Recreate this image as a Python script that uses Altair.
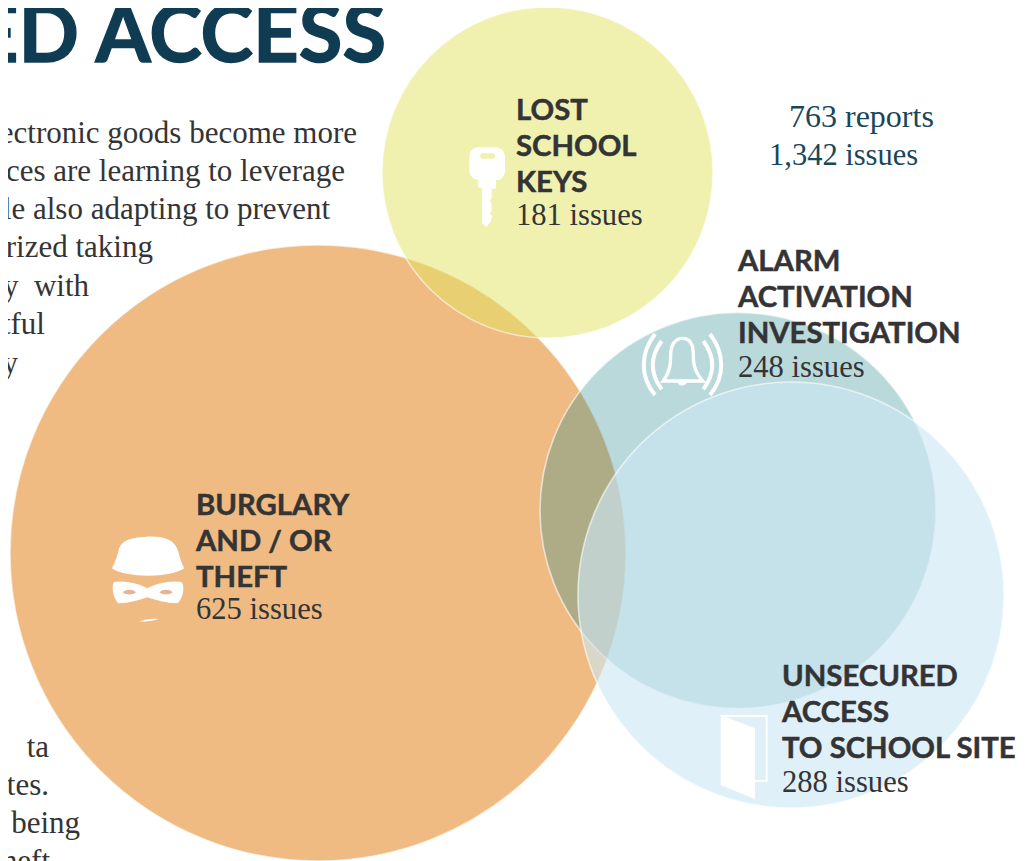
import altair as alt
import pandas as pd

SERIF = "Liberation Serif"
SANS = "Lato"
DARK = "#343436"
NAVY = "#0f3c53"

# values
names = ["Burglary and / or theft", "Lost school keys", "Alarm activation investigation", "Unsecured access to school site"]
issues = [625, 181, 248, 288]
# where the Venn places each circle and how wide it is drawn
venn_x = [318, 547.5, 738, 791]
venn_y = [553, 172.5, 510.5, 595]
venn_d = [616, 331, 396, 426]
fills = ["#efbb82", "#e1e35f", "#319093", "#cde7f3"]
alphas = [1.0, 0.5, 0.34, 0.62]

title_line = ["ED ACCESS"]
body_top = ["ectronic goods become more", "ces are learning to leverage", "ile also adapting to prevent",
            "orized taking", "ty\u00a0\u00a0with", "tful", "ry"]
body_top_end = [357, 345, 330, 153, 89, 45, 18]
body_top_base = [143, 181, 219, 257, 296, 334, 373]
body_low = ["s", "ta", "ites.", "being", "heft"]
body_low_end = [3, 49, 49, 80, 50]
body_low_base = [719, 757, 795, 833, 871]

totals = ["763 reports", "1,342 issues"]
totals_x = [789, 769]
totals_y = [127, 165]
totals_size = [32, 30.5]

head_text = ["LOST", "SCHOOL", "KEYS", "ALARM", "ACTIVATION", "INVESTIGATION", "BURGLARY", "AND / OR", "THEFT",
             "UNSECURED", "ACCESS", "TO SCHOOL SITE"]
head_x = [516] * 3 + [738] * 3 + [196] * 3 + [782] * 3
head_y = [120, 156, 192, 271, 307, 343, 515, 551, 587, 686, 722, 758]
count_text = [f"{issues[1]} issues", f"{issues[2]} issues", f"{issues[0]} issues", f"{issues[3]} issues"]
count_x = [516, 738, 196, 782]
count_y = [225, 377, 619, 792]

X = alt.Scale(domain=[8, 1024], range=[0, 1016], nice=False, zero=False)
Y = alt.Scale(domain=[8, 861], range=[0, 853], nice=False, zero=False)
xe = alt.X("x:Q", scale=X, axis=None)
ye = alt.Y("y:Q", scale=Y, axis=None)

# area follows the number of issues
order = sorted(range(4), key=lambda i: issues[i])
size_scale = alt.Scale(domain=[0] + [issues[i] for i in order], range=[0] + [venn_d[i] ** 2 for i in order])

layers = []
for i in [0, 2, 3, 1]:
    d = pd.DataFrame({"x": [venn_x[i]], "y": [venn_y[i]], "issues": [issues[i]], "name": [names[i]]})
    layers.append(alt.Chart(d).mark_circle(fill=fills[i], fillOpacity=alphas[i], opacity=1, stroke="white",
                                           strokeWidth=1.6, strokeOpacity=0.6)
                  .encode(x=xe, y=ye, size=alt.Size("issues:Q", scale=size_scale, legend=None)))

# pictograms, drawn as custom symbols whose outlines are in 1/3 px units
U = 4 / 9
def glyph(ax, ay, path, fill=None, stroke=None, sw=0):
    kw = dict(shape=path, size=U, opacity=1)
    if fill:
        kw.update(filled=True, fill=fill, strokeWidth=0)
    else:
        kw.update(filled=False, fill="transparent", stroke=stroke, strokeWidth=sw)
    return alt.Chart(pd.DataFrame({"x": [ax], "y": [ay]})).mark_point(**kw).encode(x=xe, y=ye)

W = "#ffffff"
layers += [
    # burglar
    glyph(90, 520, "M66,145 C75,125 82,110 86,90 C92,65 115,52 170,50 C225,48 255,60 265,95 C270,115 275,130 283,145 C260,160 220,167 175,167 C130,167 85,160 66,145 Z", W),
    glyph(90, 520, "M72,186 C100,180 150,190 172,205 C195,190 245,180 275,186 C285,200 280,235 262,250 C230,250 195,240 172,232 C150,240 115,250 85,250 C70,235 63,200 72,186 Z", W),
    glyph(90, 520, "M98,217 C108,207 128,207 138,217 C128,226 108,226 98,217 Z", "#e5b496"),
    glyph(90, 520, "M208,217 C218,207 238,207 248,217 C238,226 218,226 208,217 Z", "#e5b496"),
    glyph(90, 520, "M148,305 C165,298 185,294 205,297 C190,303 170,305 148,305 Z", W),
    # key
    glyph(450, 130, "M85,52 L135,52 C155,52 165,65 165,85 L165,125 C160,145 150,150 138,150 L138,175 L125,178 L125,205 L120,212 L125,225 L125,245 L118,250 L127,258 L122,275 L110,290 L96,280 L96,175 L85,172 L85,150 C70,148 58,138 58,120 L58,85 C58,65 68,52 85,52 Z", W),
    glyph(450, 130, "M98,70 L125,70 C133,70 136,74 136,78 C136,82 133,86 125,86 L98,86 C93,86 90,82 90,78 C90,74 93,70 98,70 Z", "#f0f1af"),
    # bell
    glyph(630, 320, "M100,183 L218,183 C200,160 190,145 190,105 C190,75 180,55 158,55 C135,55 122,75 122,105 C122,145 115,160 100,183 Z", None, W, 3.4),
    glyph(630, 320, "M143,187 L170,187 C168,200 145,200 143,187 Z", W),
    glyph(630, 320, "M75,42 C30,100 30,170 75,225", None, W, 4),
    glyph(630, 320, "M95,63 C60,110 60,160 95,208", None, W, 4),
    glyph(630, 320, "M240,42 C285,100 285,170 240,225", None, W, 4),
    glyph(630, 320, "M220,63 C255,110 255,160 220,208", None, W, 4),
    # door
    glyph(700, 700, "M62,45 L203,45 L203,245 L165,245 L165,240 L197,240 L197,51 L62,51 Z", W),
    glyph(700, 700, "M62,45 L165,85 L165,297 L62,255 Z", W),
]

def words(texts, xs, ys, font, size, color, align="left", weight="normal", bolden=0):
    d = pd.DataFrame({"t": texts, "x": xs, "y": ys})
    kw = dict(stroke=color, strokeWidth=bolden) if bolden else {}
    return alt.Chart(d).mark_text(font=font, fontSize=size, color=color, align=align, baseline="alphabetic",
                                  fontWeight=weight, **kw).encode(x=xe, y=ye, text="t:N")

layers += [
    words(title_line, [386], [61.5], SANS, 79.5, NAVY, "right", "bold", 1.4),
    words(body_top, body_top_end, body_top_base, SERIF, 31, DARK, "right"),
    words(body_low, body_low_end, body_low_base, SERIF, 31, DARK, "right"),
    words(totals[:1], totals_x[:1], totals_y[:1], SERIF, totals_size[0], "#18475c"),
    words(totals[1:], totals_x[1:], totals_y[1:], SERIF, totals_size[1], "#18475c"),
    words(head_text, head_x, head_y, SANS, 29.3, DARK, "left", "bold", 0.5),
    words(count_text, count_x, count_y, SERIF, 30.6, DARK),
]

chart = alt.layer(*layers).properties(width=1016, height=853, padding=0, autosize="none", background="white").configure_view(stroke=None)
chart.save("out.html", embed_options={"renderer": "svg", "actions": False})
